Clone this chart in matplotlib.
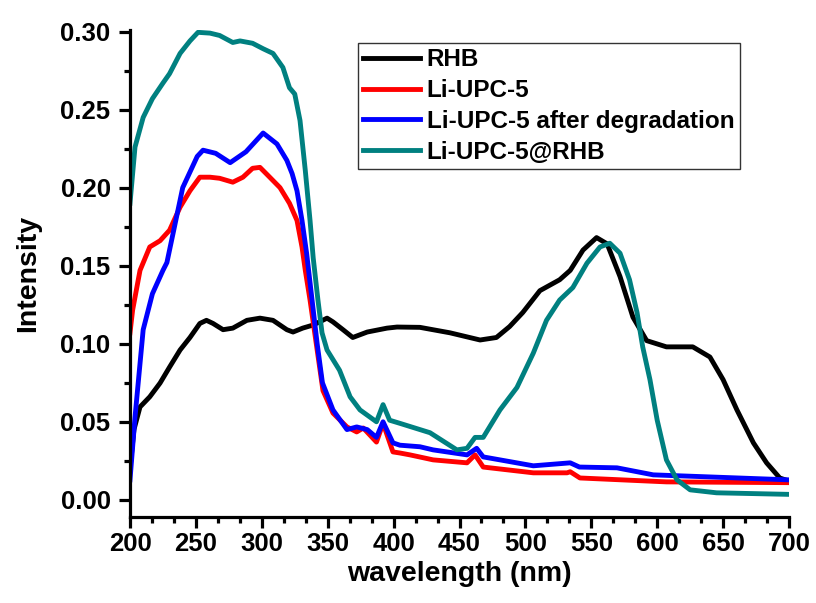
import numpy as np
import matplotlib
matplotlib.use('Agg')
import matplotlib.pyplot as plt
from matplotlib.ticker import MultipleLocator, FormatStrFormatter

# RHB
rhb_x = [200, 203, 207.6, 215, 222.8, 230, 238, 245.5, 253, 258, 263, 270.6, 278, 288.7, 298.6,
         308.5, 319, 323.7, 331, 339, 349.5, 354, 361.6, 369, 380, 395, 402.6, 420, 442.8, 465.6,
         478, 488, 498, 511, 526, 534, 543.7, 554, 562, 571.8, 581.6, 592, 607, 627, 640, 650,
         660.5, 673, 683, 693, 700]
rhb_y = [0.02, 0.045, 0.0595, 0.066, 0.0748, 0.085, 0.096, 0.104, 0.113, 0.115, 0.113, 0.109, 0.110,
         0.115, 0.1164, 0.115, 0.109, 0.1075, 0.110, 0.112, 0.1164, 0.114, 0.109, 0.104, 0.1075, 0.110,
         0.1107, 0.1105, 0.107, 0.1024, 0.104, 0.111, 0.12, 0.134, 0.141, 0.147, 0.16, 0.168, 0.164,
         0.143, 0.117, 0.102, 0.098, 0.098, 0.0915, 0.077, 0.0576, 0.0365, 0.0237, 0.014, 0.012]

# Li-UPC-5
upc_x = [200, 202, 207.6, 215, 222.8, 230, 238, 245.5, 253, 260.7, 268, 278, 285.7, 293, 298.6,
         306, 313.8, 321, 326.7, 330.5, 333, 336.6, 342, 346.4, 354, 364.6, 372, 377, 387, 392,
         399.5, 404.8, 412.4, 430, 455.7, 461.8, 468, 506, 531.6, 534, 541.4, 607, 700]
upc_y = [0.107, 0.1216, 0.147, 0.162, 0.166, 0.1727, 0.1875, 0.198, 0.2067, 0.2067, 0.206, 0.2035,
         0.2067, 0.2124, 0.213, 0.2067, 0.2, 0.19, 0.179, 0.162, 0.147, 0.128, 0.096, 0.070, 0.0556,
         0.0467, 0.0435, 0.046, 0.037, 0.049, 0.0307, 0.030, 0.0288, 0.0256, 0.0237, 0.0288, 0.021,
         0.0173, 0.0173, 0.018, 0.014, 0.0115, 0.011]

# Li-UPC-5 after degradation
deg_x = [200, 203.8, 210, 217, 225, 228, 240, 251, 255.4, 265, 276, 288, 301, 311.5, 319, 323,
         326.7, 330.5, 334, 342, 346, 354, 364.6, 372, 380, 387, 392, 399.5, 404.8, 420, 430,
         455.7, 463, 468, 506, 534, 541, 569.5, 597, 700]
deg_y = [0.0128, 0.053, 0.109, 0.132, 0.147, 0.152, 0.2, 0.220, 0.224, 0.222, 0.216, 0.223, 0.235,
         0.228, 0.2175, 0.209, 0.198, 0.179, 0.158, 0.10, 0.075, 0.0576, 0.045, 0.0467, 0.045,
         0.040, 0.050, 0.0365, 0.035, 0.034, 0.032, 0.0288, 0.033, 0.0275, 0.0218, 0.0237, 0.021,
         0.0205, 0.016, 0.0128]

# Li-UPC-5@RHB
mix_x = [200, 203.8, 210, 217, 225, 230, 238, 245.5, 251.6, 260.7, 268, 278, 283.5, 293, 301,
         308.5, 316, 321, 325, 329, 333, 336.6, 339, 342.6, 345.7, 349.5, 359, 367, 374.5, 387,
         392, 397, 404.8, 420, 427.6, 448, 455.7, 461.8, 468, 480.7, 493.6, 506, 516, 526, 536,
         546.7, 556.6, 564, 571.8, 579, 584.7, 589, 594.5, 600, 607, 615, 625, 645, 700]
mix_y = [0.19, 0.226, 0.245, 0.257, 0.267, 0.273, 0.286, 0.294, 0.2995, 0.299, 0.2975, 0.293, 0.294,
         0.2925, 0.289, 0.286, 0.277, 0.264, 0.260, 0.243, 0.211, 0.179, 0.155, 0.128, 0.107, 0.096,
         0.083, 0.066, 0.0576, 0.050, 0.061, 0.051, 0.049, 0.045, 0.043, 0.032, 0.033, 0.040, 0.040,
         0.0576, 0.072, 0.094, 0.115, 0.128, 0.136, 0.1516, 0.162, 0.1644, 0.158, 0.141, 0.12, 0.098,
         0.077, 0.051, 0.0256, 0.0128, 0.0064, 0.0045, 0.0035]

series = [
    (rhb_x, rhb_y, 'RHB', 'black'),
    (upc_x, upc_y, 'Li-UPC-5', '#ff0000'),
    (deg_x, deg_y, 'Li-UPC-5 after degradation', '#0000ff'),
    (mix_x, mix_y, 'Li-UPC-5@RHB', '#008080'),
]

plt.rcParams['font.family'] = 'Liberation Sans'
plt.rcParams['font.weight'] = 'bold'

fig = plt.figure(figsize=(8.16, 6.03), dpi=100)
ax = fig.add_axes([130/816, 1-517/603, (789-130)/816, (517-30)/603])

for x, y, lab, col in series:
    ax.plot(x, y, color=col, lw=3.5, label=lab, solid_joinstyle='round')

ax.set_xlim(200, 700)
ax.xaxis.set_major_locator(MultipleLocator(50))
ax.xaxis.set_minor_locator(MultipleLocator(50/3))
ax.yaxis.set_major_locator(MultipleLocator(0.05))
ax.yaxis.set_minor_locator(MultipleLocator(0.025))
ax.yaxis.set_major_formatter(FormatStrFormatter('%.2f'))
ax.set_ylim(-0.011, 0.301)

for s in ['top', 'right']:
    ax.spines[s].set_visible(False)
for s in ['left', 'bottom']:
    ax.spines[s].set_linewidth(2.3)
ax.tick_params(which='major', direction='out', length=8, width=2.3, labelsize=18.5)
ax.tick_params(which='minor', direction='out', length=4.5, width=2.3)
ax.tick_params(axis='x', which='major', pad=2.5)
ax.tick_params(axis='y', which='major', pad=6)

ax.set_xlabel('wavelength (nm)', fontsize=20.5, fontweight='bold')
ax.set_ylabel('Intensity', fontsize=20.5, fontweight='bold')
ax.xaxis.set_label_coords(0.5, -0.091)
ax.yaxis.set_label_coords(-0.135, 0.5)

leg = ax.legend(loc='upper left', bbox_to_anchor=(358/816, 1-43/603), bbox_transform=fig.transFigure,
                borderaxespad=0, fancybox=False, framealpha=1, edgecolor='#333333',
                prop={'size': 17.5, 'weight': 'bold'}, handlelength=2.35, handletextpad=0.25,
                labelspacing=0.32, borderpad=0.22)
leg.get_frame().set_linewidth(1)

fig.savefig('out.png', dpi=100)
